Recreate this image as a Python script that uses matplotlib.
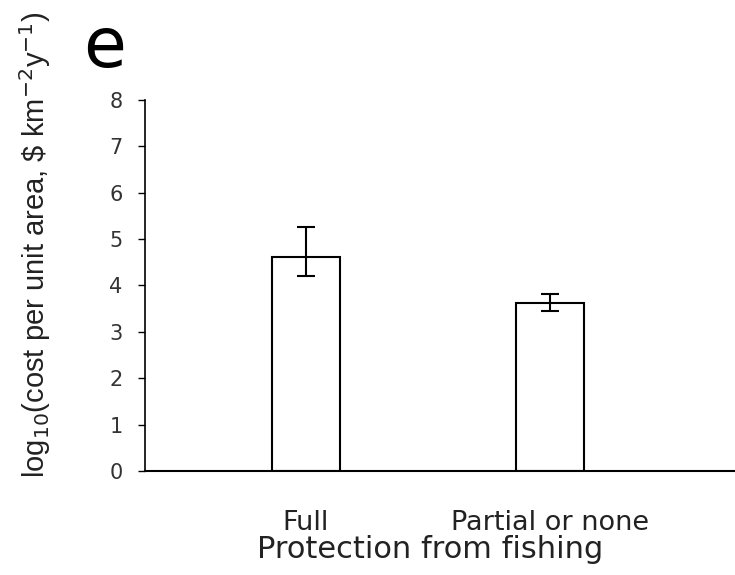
import matplotlib
matplotlib.use("Agg")
import matplotlib.pyplot as plt

# values
categories = ["Full", "Partial or none"]
means = [4.62, 3.63]
err_low = [0.42, 0.19]
err_high = [0.65, 0.19]
y_ticks = [0, 1, 2, 3, 4, 5, 6, 7, 8]


def main():
    plt.rcParams["font.family"] = ["DejaVu Sans"]
    fig = plt.figure(figsize=(7.35, 5.75), dpi=100)
    ax = fig.add_axes([0.197, 0.181, 0.803, 0.645])

    x = list(range(len(categories)))
    ax.bar(x, means, width=0.28, color="white", edgecolor="black", linewidth=1.5, zorder=2)
    ax.errorbar(x, means, yerr=[err_low, err_high], fmt="none", ecolor="black",
                elinewidth=1.5, capsize=6.5, capthick=1.5, zorder=3)

    ax.set_xlim(-0.66, 1.76)
    ax.set_ylim(0, 8)
    ax.set_yticks(y_ticks)
    ax.set_xticks(x)
    ax.set_xticklabels(categories, fontsize=19.5, color="#222222")
    ax.tick_params(axis="x", length=0, pad=28)
    ax.tick_params(axis="y", length=5, width=1, pad=11, labelsize=15, labelcolor="#333333")

    for side in ["top", "right"]:
        ax.spines[side].set_visible(False)
    ax.spines["left"].set_linewidth(1.2)
    ax.spines["bottom"].set_linewidth(1.5)

    ax.set_xlabel("Protection from fishing", fontsize=22, color="#222222")
    ax.xaxis.set_label_coords(0.483, -0.172)
    ax.xaxis.label.set_va("top")

    ax.set_ylabel(r"log$_{10}$(cost per unit area, \$ km$^{-2}$y$^{-1}$)",
                  fontsize=21, family="Liberation Sans", color="#222222")
    ax.yaxis.set_label_coords(-0.155, 0.61)

    fig.text(0.113, 0.975, "e", fontsize=50, va="top", ha="left")

    fig.savefig("out.png", dpi=100)


if __name__ == "__main__":
    main()
